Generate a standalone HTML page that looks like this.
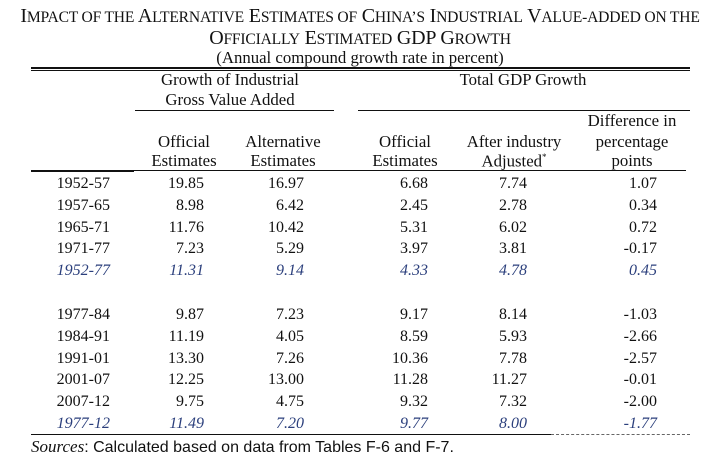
<!DOCTYPE html>
<html><head><meta charset="utf-8"><style>
body{margin:0;width:720px;height:458px;background:#fff;position:relative;overflow:hidden;font-family:"Liberation Serif",serif;color:#111}
.t{position:absolute;white-space:nowrap;line-height:1;font-size:16px}
.h{font-size:16.8px}
.c{transform:translateX(-50%)}
.r{transform:translateX(-100%)}
.sc{font-size:20px;letter-spacing:-0.2px}
.sc small{font-size:15.6px}
.ln{position:absolute;background:#111}
.it{font-style:italic;color:#2b3f7c}
</style></head><body>
<div class="t c sc" style="left:360px;top:6px">I<small>MPACT OF THE</small> A<small>LTERNATIVE</small> E<small>STIMATES OF</small> C<small>HINA’S</small> I<small>NDUSTRIAL</small> V<small>ALUE-ADDED ON THE</small></div>
<div class="t c sc" style="left:360px;top:28px">O<small>FFICIALLY</small> E<small>STIMATED</small> GDP G<small>ROWTH</small></div>
<div class="t c h" style="left:360px;top:50px">(Annual compound growth rate in percent)</div>
<div class="ln" style="left:31px;top:67px;width:659px;height:2px"></div>
<div class="ln" style="left:31px;top:70px;width:659px;height:1px"></div>
<div class="t c h" style="left:230px;top:72px">Growth of Industrial</div>
<div class="t c h" style="left:230px;top:92px">Gross Value Added</div>
<div class="t c h" style="left:523px;top:72px">Total GDP Growth</div>
<div class="ln" style="left:135px;top:110px;width:199px;height:1px"></div>
<div class="ln" style="left:358px;top:110px;width:332px;height:1px"></div>
<div class="t c h" style="left:184px;top:134px">Official</div>
<div class="t c h" style="left:184px;top:153px">Estimates</div>
<div class="t c h" style="left:283px;top:134px">Alternative</div>
<div class="t c h" style="left:283px;top:153px">Estimates</div>
<div class="t c h" style="left:405px;top:134px">Official</div>
<div class="t c h" style="left:405px;top:153px">Estimates</div>
<div class="t c h" style="left:514px;top:134px">After industry</div>
<div class="t c h" style="left:514px;top:153px">Adjusted<sup style="font-size:9px">*</sup></div>
<div class="t c h" style="left:632px;top:113px">Difference in</div>
<div class="t c h" style="left:632px;top:134px">percentage</div>
<div class="t c h" style="left:632px;top:153px">points</div>
<div class="ln" style="left:31px;top:170px;width:103px;height:2px"></div>
<div class="ln" style="left:134px;top:170px;width:552px;height:1px"></div>
<div id="body"></div>
<div class="ln" style="left:31px;top:434px;width:520px;height:1px"></div>
<div style="position:absolute;left:551px;top:434px;width:139px;border-top:1px dashed #666"></div>
<div class="t" style="left:31px;top:438px;font-family:'Liberation Sans',sans-serif;font-size:16px"><i style="font-family:'Liberation Serif',serif;font-size:17px">Sources</i>: Calculated based on data from Tables F-6 and F-7.</div>
<script>
const periods=["1952-57","1957-65","1965-71","1971-77","1952-77","1977-84","1984-91","1991-01","2001-07","2007-12","1977-12"];
const officialInd=["19.85","8.98","11.76","7.23","11.31","9.87","11.19","13.30","12.25","9.75","11.49"];
const alternativeInd=["16.97","6.42","10.42","5.29","9.14","7.23","4.05","7.26","13.00","4.75","7.20"];
const officialGdp=["6.68","2.45","5.31","3.97","4.33","9.17","8.59","10.36","11.28","9.32","9.77"];
const adjustedGdp=["7.74","2.78","6.02","3.81","4.78","8.14","5.93","7.78","11.27","7.32","8.00"];
const difference=["1.07","0.34","0.72","-0.17","0.45","-1.03","-2.66","-2.57","-0.01","-2.00","-1.77"];
const summaryRows=[4,10];
const cols=[[periods,110,'period'],[officialInd,204,'official-industrial'],[alternativeInd,304,'alternative-industrial'],[officialGdp,428,'official-gdp'],[adjustedGdp,527,'adjusted-gdp'],[difference,657,'difference']];
const body=document.getElementById('body');
periods.forEach((p,i)=>{
  const y=(i<5?176+i*21.8:307+(i-5)*21.8);
  cols.forEach(([arr,x,nm])=>{
    const d=document.createElement('div');
    d.className='t r'+(summaryRows.includes(i)?' it':'');
    d.style.left=x+'px';d.style.top=y+'px';
    d.textContent=arr[i];
    
    
    body.appendChild(d);
  });
});
</script>
</body></html>
